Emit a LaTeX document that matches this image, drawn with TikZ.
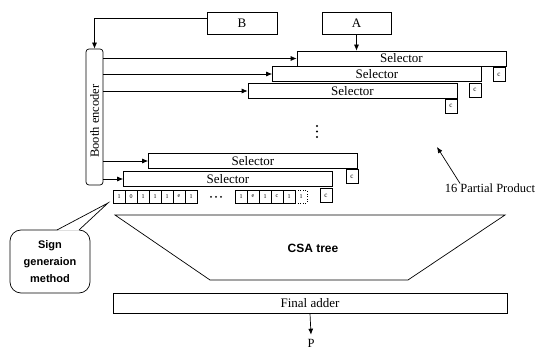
\documentclass[tikz,border=0pt]{standalone}
\usepackage{fontspec}
\setmainfont{Liberation Serif}
\newfontfamily\arialf{Liberation Sans}
\usetikzlibrary{arrows.meta,calc}
\tikzset{
  box/.style={draw, line width=0.7pt, inner sep=0pt, font=\fontsize{13}{13}\selectfont},
  sel/.style={box, minimum width=209pt, minimum height=15pt},
  cbox/.style={draw, line width=0.7pt, inner sep=0pt, minimum width=12pt, minimum height=14pt, font=\fontsize{7}{7}\selectfont},
  cell/.style={draw, line width=0.6pt, inner sep=0pt, minimum width=12pt, minimum height=13pt, font=\fontsize{6}{6}\selectfont},
  arr/.style={line width=0.7pt, -{Latex[length=6pt,width=5pt]}},
  ln/.style={line width=0.7pt},
  dotn/.style={circle, fill, inner sep=0pt, minimum size=2.4pt}
}
\begin{document}
\begin{tikzpicture}[x=1pt,y=-1pt]
\useasboundingbox (0,0) rectangle (539,358);
% inputs
\node[box, minimum width=70pt, minimum height=22pt] (B) at (242,23) {B};
\node[box, minimum width=69pt, minimum height=22pt] (A) at (356.5,23) {A};
% booth encoder
\node[box, rounded corners=3pt, minimum width=17pt, minimum height=136pt] (enc) at (94.5,117) {};
\node[rotate=90, font=\fontsize{12.5}{12.5}\selectfont, inner sep=0pt] (enclab) at ([yshift=-4pt]enc.center) {Booth encoder};
% selectors
\node[sel] (s1) at (401.5,58.5) {Selector};
\node[cbox] (c1) at (499,74.5) {c};
\node[sel, fill=white] (s2) at (377,74) {Selector};
\node[cbox] (c2) at (475,90) {c};
\node[sel, fill=white] (s3) at (352.5,91) {Selector};
\node[cbox] (c3) at (451,106) {c};
\node[dotn] (vd1) at (317,126) {};
\node[dotn] (vd2) at (317,131.5) {};
\node[dotn] (vd3) at (317,137) {};
\node[sel] (s4) at (253,161) {Selector};
\node[cbox] (c4) at (352,176.5) {c};
\node[sel] (s5) at (228,179) {Selector};
% bits
\foreach \t [count=\i from 0] in {1,0,1,1,1,e,1} {
  \node[cell] (L\i) at ({119+12*\i},196.5) {\t};
}
\node[dotn, minimum size=2pt] (hd1) at (211,197) {};
\node[dotn, minimum size=2pt] (hd2) at (216,197) {};
\node[dotn, minimum size=2pt] (hd3) at (221,197) {};
\foreach \t [count=\i from 0] in {1,e,1,c,1} {
  \node[cell] (R\i) at ({241+12*\i},196.5) {\t};
}
\node[cell, dotted] (R5) at (301,196.5) {1};
\node[cbox] (c5) at (326,195.5) {c};
% arrows
\draw[arr] ([yshift=5pt]B.west) -| (enc.north);
\draw[arr] (A.south) -- (A.south |- s1.north);
\foreach \s in {s1,s2,s3,s4,s5} {
  \draw[arr] (enc.east |- \s.west) -- (\s.west);
}
% CSA tree
\draw[ln] (115,215) -- (505,215) -- (408,280) -- (210,280) -- cycle;
\node[font=\arialf\bfseries\fontsize{12}{12}\selectfont] (csa) at (313,248) {CSA tree};
% final adder
\node[box, minimum width=394pt, minimum height=20pt] (fa) at (310,303) {Final adder};
\node[font=\fontsize{12.5}{12.5}\selectfont, inner sep=0pt] (P) at (311,343) {P};
\draw[arr] (fa.south) -- ([yshift=4pt]P.north);
% partial product label
\node[font=\fontsize{12.5}{12.5}\selectfont, inner sep=0pt] (pp) at (490,188) {16 Partial Product};
\coordinate (pptip) at (437,147);
\draw[arr] (460,0 |- pp.north) -- (pptip);
% callout
\node[draw, line width=0.7pt, rounded corners=11pt, fill=white, minimum width=80pt, minimum height=63pt, align=center, font=\arialf\bfseries\fontsize{11}{17}\selectfont] (sg) at (50,261.5) {Sign\\generaion\\method};
\coordinate (sgtip) at (108,203);
\fill[white] (57,230.6) -- (sgtip) -- (79,230.6) -- cycle;
\draw[ln] (57,230) -- (sgtip) -- (79,230);
\end{tikzpicture}
\end{document}
